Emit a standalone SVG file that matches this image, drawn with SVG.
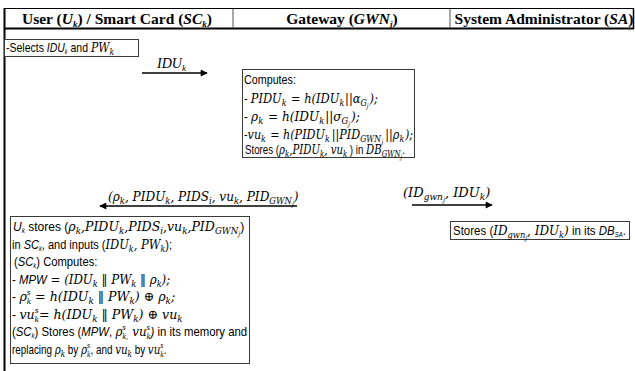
<svg xmlns="http://www.w3.org/2000/svg" width="635" height="371" viewBox="0 0 635 371">
<style>
.hd{font-family:"Liberation Serif","Times New Roman",serif;font-size:15.5px;font-weight:bold;fill:#000}
.hi{font-style:italic}
.s{font-family:"Liberation Sans",Arial,sans-serif;font-size:12.5px;fill:#000;font-style:normal}
.si{font-style:italic}
.m{font-family:"DejaVu Serif",serif;font-style:italic;font-size:13px;fill:#000}
.lbl{font-family:"Liberation Serif","Times New Roman",serif;font-style:italic;font-size:14px;fill:#000}
.sub{font-size:9px}
.sup{font-size:7.5px}
.sub2{font-size:6.5px}
.box{fill:#fff;stroke:#3a3a3a;stroke-width:1}
.conn{stroke:#000;stroke-width:1.5;fill:none}
</style>
<defs>
<marker id="ah" viewBox="0 0 10 10" refX="9" refY="5" markerWidth="9" markerHeight="7" markerUnits="userSpaceOnUse" orient="auto">
<path d="M0,0 L10,5 L0,10 z" fill="#000"/>
</marker>
</defs>
<rect width="635" height="371" fill="#fff"/>
<g id="table">
<line x1="4" y1="8.5" x2="634" y2="8.5" stroke="#000" stroke-width="1.2"/>
<line x1="4" y1="28.5" x2="634" y2="28.5" stroke="#000" stroke-width="2.2"/>
<line x1="4.5" y1="8" x2="4.5" y2="371" stroke="#000" stroke-width="2"/>
<line x1="633.5" y1="8" x2="633.5" y2="29" stroke="#000" stroke-width="1.5"/>
<line x1="233" y1="9" x2="233" y2="28" stroke="#555" stroke-width="1"/>
<line x1="450" y1="9" x2="450" y2="28" stroke="#555" stroke-width="1"/>
<text class="hd" x="117" y="24" text-anchor="middle">User (<tspan class="hi">U</tspan><tspan class="hi sub" dy="3">k</tspan><tspan dy="-3">) / Smart Card (</tspan><tspan class="hi">SC</tspan><tspan class="hi sub" dy="3">k</tspan><tspan dy="-3">)</tspan></text>
<text class="hd" x="342" y="24" text-anchor="middle">Gateway (<tspan class="hi">GWN</tspan><tspan class="hi sub" dy="3">j</tspan><tspan dy="-3">)</tspan></text>
<text class="hd" x="544" y="24" text-anchor="middle">System Administrator (<tspan class="hi">SA</tspan>)</text>
</g>
<g id="connectors">
<line class="conn" x1="142" y1="73" x2="207" y2="73" marker-end="url(#ah)"/>
<text class="lbl" x="157" y="68">IDU<tspan class="sub" dy="3">k</tspan></text>
<line class="conn" x1="297" y1="206" x2="100" y2="206" marker-end="url(#ah)"/>
<text class="m" transform="translate(108,201) scale(0.93,1)">(ρ<tspan class="sub" dy="3">k</tspan><tspan dy="-3">, PIDU</tspan><tspan class="sub" dy="3">k</tspan><tspan dy="-3">,  PIDS</tspan><tspan class="sub" dy="3">i</tspan><tspan dy="-3">, vu</tspan><tspan class="sub" dy="3">k</tspan><tspan dy="-3">, PID</tspan><tspan class="sub" dy="3">GWN</tspan><tspan class="sub2" dy="2">j</tspan><tspan dy="-5">)</tspan></text>
<line class="conn" x1="412" y1="205" x2="492" y2="205" marker-end="url(#ah)"/>
<text class="m" transform="translate(403,197)">(ID<tspan class="sub" dy="3">gwn</tspan><tspan class="sub2" dy="2">j</tspan><tspan dy="-5">, IDU</tspan><tspan class="sub" dy="3">k</tspan><tspan dy="-3">)</tspan></text>
</g>
<g id="user-select">
<rect class="box" x="4.5" y="39.5" width="134" height="17"/>
<text class="s" transform="translate(6,52) scale(0.84,1)">-Selects <tspan class="si">IDU</tspan><tspan class="si sub2" dy="2">k</tspan><tspan dy="-2"> and  </tspan><tspan class="m">PW</tspan><tspan class="m sub" dy="3">k</tspan></text>
</g>
<g id="gateway-compute">
<rect class="box" x="242.5" y="69.5" width="172" height="88"/>
<text class="s" transform="translate(244,84) scale(0.86,1)">Computes:</text>
<text class="m" transform="translate(244,103) scale(0.88,1)"><tspan class="s">- </tspan>PIDU<tspan class="sub" dy="3">k</tspan><tspan dx="1" dy="-3"> = h(IDU</tspan><tspan class="sub" dy="3">k</tspan><tspan dx="1" dy="-3">||α</tspan><tspan class="sub" dy="3">G</tspan><tspan class="sub2" dy="2">j</tspan><tspan dx="1" dy="-5">);</tspan></text>
<text class="m" transform="translate(244,121) scale(0.93,1)"><tspan class="s">- </tspan>ρ<tspan class="sub" dy="3">k</tspan><tspan dx="1" dy="-3"> =  h(IDU</tspan><tspan class="sub" dy="3">k</tspan><tspan dx="1" dy="-3">||σ</tspan><tspan class="sub" dy="3">G</tspan><tspan class="sub2" dy="2">j</tspan><tspan dx="1" dy="-5">);</tspan></text>
<text class="m" transform="translate(244,139) scale(0.86,1)"><tspan class="s">-</tspan>vu<tspan class="sub" dy="3">k</tspan><tspan dx="1" dy="-3"> = h(PIDU</tspan><tspan class="sub" dy="3">k</tspan><tspan dx="2.5" dy="-3">||PID</tspan><tspan class="sub" dy="3">GWN</tspan><tspan class="sub2" dx="0.5" dy="2">j</tspan><tspan dx="2.5" dy="-5">||ρ</tspan><tspan class="sub" dy="3">k</tspan><tspan dx="1" dy="-3">);</tspan></text>
<text class="s" transform="translate(245,154) scale(0.78,1)">Stores (<tspan class="m">ρ</tspan><tspan class="m sub" dy="3">k</tspan><tspan class="m" dy="-3">,PIDU</tspan><tspan class="m sub" dy="3">k</tspan><tspan class="m" dy="-3">, vu</tspan><tspan class="m sub" dy="3">k</tspan><tspan dy="-3"> ) in </tspan><tspan class="m">DB</tspan><tspan class="m sub" dy="3">GWN</tspan><tspan class="m sub2" dy="2">j</tspan><tspan dy="-5">.</tspan></text>
</g>
<g id="user-store">
<rect class="box" x="10.5" y="216.5" width="239" height="147"/>
<text class="s" transform="translate(13,231) scale(0.965,1)"><tspan class="si">U</tspan><tspan class="si sub2" dy="2">k</tspan><tspan dy="-2">  stores  (</tspan><tspan class="m">ρ</tspan><tspan class="m sub" dy="3">k</tspan><tspan class="m" dy="-3">,PIDU</tspan><tspan class="m sub" dy="3">k</tspan><tspan class="m" dy="-3">,PIDS</tspan><tspan class="m sub" dy="3">i</tspan><tspan class="m" dy="-3">,vu</tspan><tspan class="m sub" dy="3">k</tspan><tspan class="m" dy="-3">,PID</tspan><tspan class="m sub" dy="3">GWN</tspan><tspan class="m sub2" dy="2">j</tspan><tspan dy="-5">)</tspan></text>
<text class="s" x="12" y="249" textLength="160" lengthAdjust="spacingAndGlyphs">in <tspan class="si">SC</tspan><tspan class="si sub2" dy="2">k</tspan><tspan dy="-2">, and  inputs (</tspan><tspan class="m">IDU</tspan><tspan class="m sub" dy="3">k</tspan><tspan class="m" dy="-3">,  PW</tspan><tspan class="m sub" dy="3">k</tspan><tspan dy="-3">);</tspan></text>
<text class="s" transform="translate(14,266) scale(0.9,1)">(<tspan class="si">SC</tspan><tspan class="si sub2" dy="2">k</tspan><tspan dy="-2">) Computes:</tspan></text>
<text class="m" transform="translate(12,284) scale(0.91,1)"><tspan class="s">- </tspan><tspan class="s si">MPW</tspan> = (IDU<tspan class="sub" dy="3">k</tspan><tspan dy="-3">  ‖   PW</tspan><tspan class="sub" dy="3">k</tspan><tspan dy="-3"> ‖ ρ</tspan><tspan class="sub" dy="3">k</tspan><tspan dy="-3">);</tspan></text>
<text class="m" transform="translate(12,301) scale(0.97,1)"><tspan class="s">- </tspan>ρ<tspan class="sup" dy="-6">s</tspan><tspan class="sup" dx="-4" dy="9">k</tspan><tspan dy="-3"> = h(IDU</tspan><tspan class="sub" dy="3">k</tspan><tspan dy="-3">  ‖   PW</tspan><tspan class="sub" dy="3">k</tspan><tspan dy="-3">) ⊕  ρ</tspan><tspan class="sub" dy="3">k</tspan><tspan dy="-3">;</tspan></text>
<text class="m" transform="translate(12,319) scale(0.97,1)"><tspan class="s">- </tspan>vu<tspan class="sup" dy="-6">s</tspan><tspan class="sup" dx="-4" dy="9">k</tspan><tspan dy="-3">= h(IDU</tspan><tspan class="sub" dy="3">k</tspan><tspan dy="-3">  ‖   PW</tspan><tspan class="sub" dy="3">k</tspan><tspan dy="-3">) ⊕ vu</tspan><tspan class="sub" dy="3">k</tspan></text>
<text class="s" transform="translate(12,336) scale(0.91,1)">(<tspan class="si">SC</tspan><tspan class="si sub2" dy="2">k</tspan><tspan dy="-2">) Stores (</tspan><tspan class="si">MPW</tspan>, <tspan class="m">ρ</tspan><tspan class="m sup" dy="-6">s</tspan><tspan class="m sup" dx="-4" dy="9">k,</tspan><tspan class="m" dy="-3"> vu</tspan><tspan class="m sup" dy="-6">s</tspan><tspan class="m sup" dx="-4" dy="9">k</tspan><tspan class="si" dy="-3">)</tspan> in its memory and</text>
<text class="s" transform="translate(12,354) scale(0.79,1)">replacing <tspan class="m">ρ</tspan><tspan class="m sub" dy="3">k</tspan><tspan dy="-3"> by  </tspan><tspan class="m">ρ</tspan><tspan class="m sup" dy="-6">s</tspan><tspan class="m sup" dx="-4" dy="9">k</tspan><tspan dy="-3">, and </tspan><tspan class="m">vu</tspan><tspan class="m sub" dy="3">k</tspan><tspan dy="-3"> by  </tspan><tspan class="m">vu</tspan><tspan class="m sup" dy="-6">s</tspan><tspan class="m sup" dx="-4" dy="9">k</tspan><tspan dy="-3">.</tspan></text>
</g>
<g id="sa-store">
<rect class="box" x="450.5" y="221.5" width="179" height="18"/>
<text class="s" transform="translate(453,235) scale(0.92,1)">Stores  (<tspan class="m">ID</tspan><tspan class="m sub" dy="3">gwn</tspan><tspan class="m sub2" dy="2">j</tspan><tspan class="m" dy="-5">, IDU</tspan><tspan class="m sub" dy="3">k</tspan><tspan class="m" dy="-3">)</tspan> in its <tspan class="si">DB</tspan><tspan class="si sub2" dy="2">SA</tspan><tspan dy="-2">.</tspan></text>
</g>
</svg>
